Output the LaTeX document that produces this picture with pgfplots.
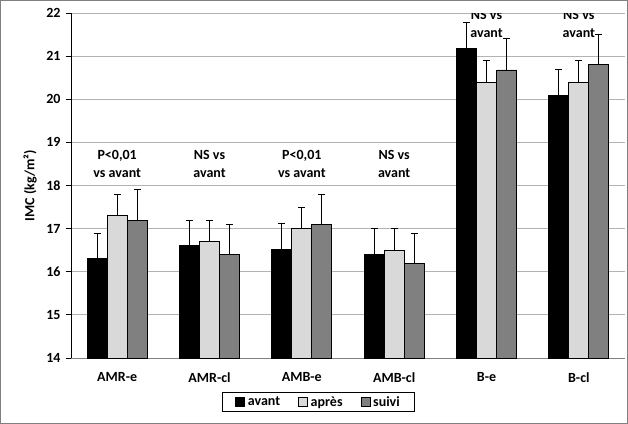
\documentclass[border=0pt]{standalone}
\usepackage{pgfplots}
\pgfplotsset{compat=1.18}
\usepackage{fontspec}
\setmainfont{Carlito}
\definecolor{lgray}{HTML}{D9D9D9}
\definecolor{dgray}{HTML}{808080}
\definecolor{gridc}{HTML}{B3B3B3}
\newcommand{\ff}{\fontsize{14bp}{18bp}\selectfont\bfseries}
\pgfplotsset{myerr/.style={
  error bars/y dir=plus, error bars/y explicit,
  error bars/error bar style={black, line width=0.8bp},
  error bars/error mark options={rotate=90, mark size=3.5bp, black, line width=0.8bp}}}
\begin{document}
\begin{tikzpicture}
\begin{axis}[
  scale only axis, width=554bp, height=345bp,
  at={(0,0)}, anchor=south west,
  xmin=-0.5, xmax=5.5, ymin=14, ymax=22,
  ytick={14,15,...,22},
  xtick={0,1,2,3,4,5},
  xticklabels={AMR-e,AMR-cl,AMB-e,AMB-cl,B-e,B-cl},
  major x tick style={draw=none},
  extra x ticks={-0.5,0.5,1.5,2.5,3.5,4.5,5.5},
  extra x tick labels={},
  extra x tick style={grid=none, major tick length=5bp, tick style={draw=gray, line width=0.8bp}, tick align=outside},
  ymajorgrids, grid style={gridc, line width=0.8bp},
  axis x line*=bottom, axis y line*=left,
  x axis line style={gray, line width=0.8bp, -},
  y axis line style={black, line width=0.8bp, -},
  ytick style={black, line width=0.8bp},
  tick align=outside, major tick length=5bp,
  tick label style={font=\ff},
  /pgf/number format/assume math mode=true,
  xticklabel style={yshift=-6bp},
  yticklabel style={xshift=-2bp},
  ylabel={IMC (kg/m²)},
  ylabel style={font=\ff, at={(axis description cs:-0.074,0.5)}, anchor=center},
  ybar, bar width=20bp,
  legend columns=3,
  legend cell align=left,
  legend style={at={(axis description cs:0.4468,-0.1275)}, anchor=center, draw=black, line width=0.8bp,
    font=\ff, inner xsep=13bp, inner ysep=1.5bp,
    /tikz/every odd column/.append style={column sep=1bp},
    /tikz/every even column/.append style={column sep=16bp}},
  legend image code/.code={\draw[#1, line width=0.6bp] (0bp,-4.5bp) rectangle (9bp,4.5bp);},
]
\addplot[fill=black, draw=black, line width=0.8bp, bar shift=-20bp, myerr] coordinates {
  (0,16.3) +- (0,0.6)
  (1,16.6) +- (0,0.6)
  (2,16.52) +- (0,0.6)
  (3,16.4) +- (0,0.6)
  (4,21.18) +- (0,0.6)
  (5,20.09) +- (0,0.6)
};
\addplot[fill=lgray, draw=black, line width=0.8bp, bar shift=0bp, myerr] coordinates {
  (0,17.3) +- (0,0.5)
  (1,16.7) +- (0,0.5)
  (2,17.0) +- (0,0.5)
  (3,16.5) +- (0,0.5)
  (4,20.39) +- (0,0.51)
  (5,20.39) +- (0,0.51)
};
\addplot[fill=dgray, draw=black, line width=0.8bp, bar shift=20bp, myerr] coordinates {
  (0,17.2) +- (0,0.7)
  (1,16.4) +- (0,0.7)
  (2,17.1) +- (0,0.7)
  (3,16.2) +- (0,0.7)
  (4,20.68) +- (0,0.72)
  (5,20.81) +- (0,0.69)
};
\legend{avant,après,suivi}
\begin{scope}[every node/.style={font=\ff, align=center, inner sep=0pt}]
\node at (axis cs:0,18.5) {P<0,01\\vs avant};
\node at (axis cs:1,18.5) {NS vs\\avant};
\node at (axis cs:2,18.5) {P<0,01\\vs avant};
\node at (axis cs:3,18.5) {NS vs\\avant};
\node at (axis cs:4,21.745) {NS vs\\avant};
\node at (axis cs:5,21.745) {NS vs\\avant};
\end{scope}
\end{axis}
\draw[gray, line width=1.5bp] (-70.25bp,-65.25bp) rectangle (556.25bp,357.25bp);
\pgfresetboundingbox
\useasboundingbox (-71bp,-66bp) rectangle (557bp,358bp);
\end{tikzpicture}
\end{document}
